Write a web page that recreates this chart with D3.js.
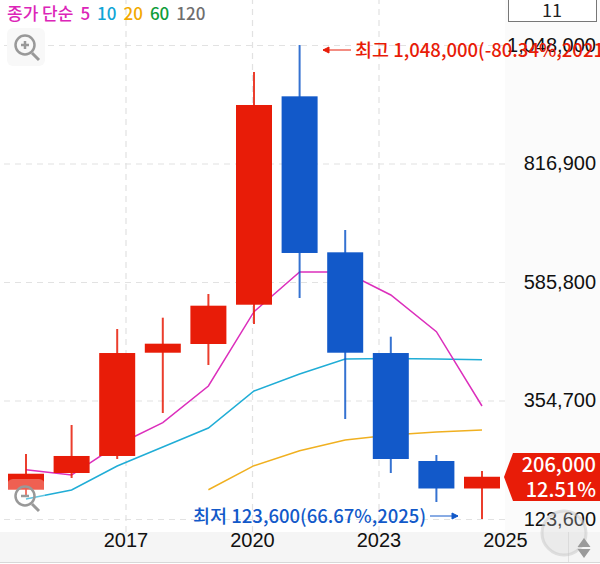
<!DOCTYPE html>
<html>
<head>
<meta charset="utf-8">
<script src="https://cdn.jsdelivr.net/npm/d3@7"></script>
<style>
  html, body { margin: 0; padding: 0; background: #fff; overflow: hidden; }
  svg { display: block; font-family: "Noto Sans CJK KR", "Noto Sans", sans-serif; }
  .grid line { stroke: #e2e2e2; stroke-width: 1.2; stroke-dasharray: 6 5; }
  .grid path, .axis path, .axis line { display: none; }
  .axis text { font-size: 20px; font-weight: 500; fill: #111; }
</style>
</head>
<body>
<svg id="chart" width="600" height="564"></svg>
<script>
const years = [2015, 2016, 2017, 2018, 2019, 2020, 2021, 2022, 2023, 2024, 2025];
const opens = [180700, 213300, 246500, 447900, 464900, 541500, 947900, 643700, 447300, 236700, 183100];
const closes = [211900, 246500, 447300, 465500, 539600, 931000, 642400, 447900, 240600, 183100, 206000];
const highs = [250400, 306900, 494100, 516200, 562400, 995300, 1048000, 687200, 479100, 248400, 217200];
const lows = [166500, 203600, 240600, 330300, 423900, 503900, 554600, 318600, 213300, 156800, 123600];

const ma5 = [219700, 209400, 267900, 311400, 383000, 527900, 605300, 605300, 560500, 488900, 344000];
const ma10 = [162600, 180200, 227000, 264000, 301100, 373200, 406400, 435600, 436600, 435600, 434300];
const ma20 = [null, null, null, null, 180700, 227600, 256800, 277700, 287400, 293300, 297200];

const yTicks = [1048000, 816900, 585800, 354700, 123600];
const xLabels = ["2017", "2020", "2023", "2025"];
const legendItems = ["5", "10", "20", "60", "120"];
const legendColors = ["#dc25b8", "#10a5d6", "#f2a900", "#0f9d3a", "#6e6e6e"];

const RED = "#e81c08", BLUE = "#1259c9";

const svg = d3.select("#chart");
const X = d3.scalePoint().domain(years).range([26, 482]);
const Y = d3.scaleLinear().domain([123600, 1048000]).range([519, 45]);
const XLabel = d3.scalePoint().domain(xLabels).range([125.5, 505]);

// panels
svg.append("rect").attr("x", 505).attr("y", 0).attr("width", 95).attr("height", 532).attr("fill", "#fbfbfb");
svg.append("rect").attr("x", 0).attr("y", 532).attr("width", 600).attr("height", 30).attr("fill", "#f5f5f5");
svg.append("line").attr("x1", 0).attr("x2", 600).attr("y1", 562.5).attr("y2", 562.5).attr("stroke", "#d8d8d8");
svg.append("line").attr("x1", 568.5).attr("x2", 568.5).attr("y1", 532).attr("y2", 562).attr("stroke", "#e0e0e0");

// grid
svg.append("g").attr("class", "grid")
  .attr("transform", "translate(505,0)")
  .call(d3.axisLeft(Y).tickValues(yTicks).tickSize(505).tickFormat(""));
svg.append("g").attr("class", "grid")
  .attr("transform", "translate(0,532)")
  .call(d3.axisBottom(XLabel).tickValues(xLabels.slice(0, 3)).tickSize(-532).tickFormat(""));

// axes
svg.append("g").attr("class", "axis")
  .attr("transform", "translate(596,0)")
  .call(d3.axisLeft(Y).tickValues(yTicks).tickSize(0).tickPadding(0).tickFormat(d3.format(",")));
svg.append("g").attr("class", "axis")
  .attr("transform", "translate(0,532)")
  .call(d3.axisBottom(XLabel).tickSize(0).tickPadding(1));

// moving averages
const maLine = d3.line()
  .defined((d) => d != null)
  .x((d, i) => X(years[i]))
  .y((d) => Y(d));
const maSeries = [
  { values: ma20, color: "#f0b020" },
  { values: ma10, color: "#20add6" },
  { values: ma5, color: "#dc2fbc" },
];
svg.append("g").selectAll("path").data(maSeries).join("path")
  .attr("fill", "none")
  .attr("stroke", (d) => d.color)
  .attr("stroke-width", 1.5)
  .attr("d", (d) => maLine(d.values));

// candles
const candles = years.map((year, i) => ({
  year, open: opens[i], close: closes[i], high: highs[i], low: lows[i],
}));
const candleColor = (d) => (d.close >= d.open ? RED : BLUE);
const candle = svg.append("g").selectAll("g").data(candles).join("g");
candle.append("line")
  .attr("x1", (d) => X(d.year)).attr("x2", (d) => X(d.year))
  .attr("y1", (d) => Y(d.high)).attr("y2", (d) => Y(d.low))
  .attr("stroke", candleColor)
  .attr("stroke-opacity", 0.85)
  .attr("stroke-width", 2);
candle.append("rect")
  .attr("x", (d) => X(d.year) - 18)
  .attr("width", 36)
  .attr("y", (d) => Y(Math.max(d.open, d.close)))
  .attr("height", (d) => Math.abs(Y(d.open) - Y(d.close)))
  .attr("fill", candleColor);

// high / low notes
svg.append("text").attr("x", 355).attr("y", 57).attr("fill", RED)
  .attr("font-size", 18.5).attr("font-weight", 500)
  .text("최고 1,048,000(-80.34%,2021)");
svg.append("path").attr("d", "M323,50H351M323,50l6,-3v6z")
  .attr("stroke", RED).attr("stroke-width", 1).attr("fill", RED);
svg.append("text").attr("x", 426).attr("y", 523).attr("text-anchor", "end").attr("fill", BLUE)
  .attr("font-size", 18.5).attr("font-weight", 500)
  .text("최저 123,600(66.67%,2025)");
svg.append("path").attr("d", "M430,516H458M458,516l-6,-3v6z")
  .attr("stroke", BLUE).attr("stroke-width", 1).attr("fill", BLUE);

// current price tag
svg.append("path").attr("d", "M504,477L513,453H600V501H513Z").attr("fill", RED);
svg.append("text").attr("x", 596).attr("y", 472).attr("text-anchor", "end").attr("fill", "#fff")
  .attr("font-size", 20).attr("font-weight", 500).text("206,000");
svg.append("text").attr("x", 596).attr("y", 497).attr("text-anchor", "end").attr("fill", "#fff")
  .attr("font-size", 20).attr("font-weight", 500).text("12.51%");

// legend
const legend = svg.append("text").attr("x", 7).attr("y", 20)
  .attr("font-size", 17).attr("font-weight", 500);
legend.append("tspan").attr("fill", legendColors[0]).text("종가 단순");
legend.selectAll(".item").data(legendItems).join("tspan")
  .attr("class", "item")
  .attr("dx", 7)
  .attr("fill", (d, i) => legendColors[i])
  .text((d) => d);

// period box
svg.append("rect").attr("x", 508.5).attr("y", -2).attr("width", 88).attr("height", 23.5)
  .attr("fill", "#fff").attr("stroke", "#777");
svg.append("text").attr("x", 552).attr("y", 17).attr("text-anchor", "middle")
  .attr("font-size", 18).attr("fill", "#222").text("11");

// zoom buttons
function zoomButton(cy, plus) {
  const g = svg.append("g").attr("transform", `translate(26,${cy})`);
  g.append("rect").attr("x", -19).attr("y", -19).attr("width", 38).attr("height", 38).attr("rx", 6)
    .attr("fill", plus ? "#f8f8f8" : "#fff").attr("fill-opacity", plus ? 1 : 0.3);
  g.append("circle").attr("r", 9.5).attr("cx", -1).attr("cy", -2)
    .attr("fill", "none").attr("stroke", "#999").attr("stroke-width", 2.5);
  g.append("path").attr("d", plus ? "M-5,-2H3M-1,-6V2" : "M-5,-2H3")
    .attr("stroke", "#999").attr("stroke-width", 2.5);
  g.append("path").attr("d", "M6,6L13,13").attr("stroke", "#999").attr("stroke-width", 3);
}
zoomButton(47, true);
zoomButton(498, false);

// chart mode button
svg.append("circle").attr("cx", 564).attr("cy", 533).attr("r", 22)
  .attr("fill", "#cfcfcf").attr("fill-opacity", 0.28)
  .attr("stroke", "#c8c8c8").attr("stroke-opacity", 0.5).attr("stroke-width", 3);

// scroll arrows
svg.append("path").attr("d", "M584,538l-6.5,9h13zM584,558l-6.5,-9h13z").attr("fill", "#9a9a9a");
</script>
</body>
</html>
